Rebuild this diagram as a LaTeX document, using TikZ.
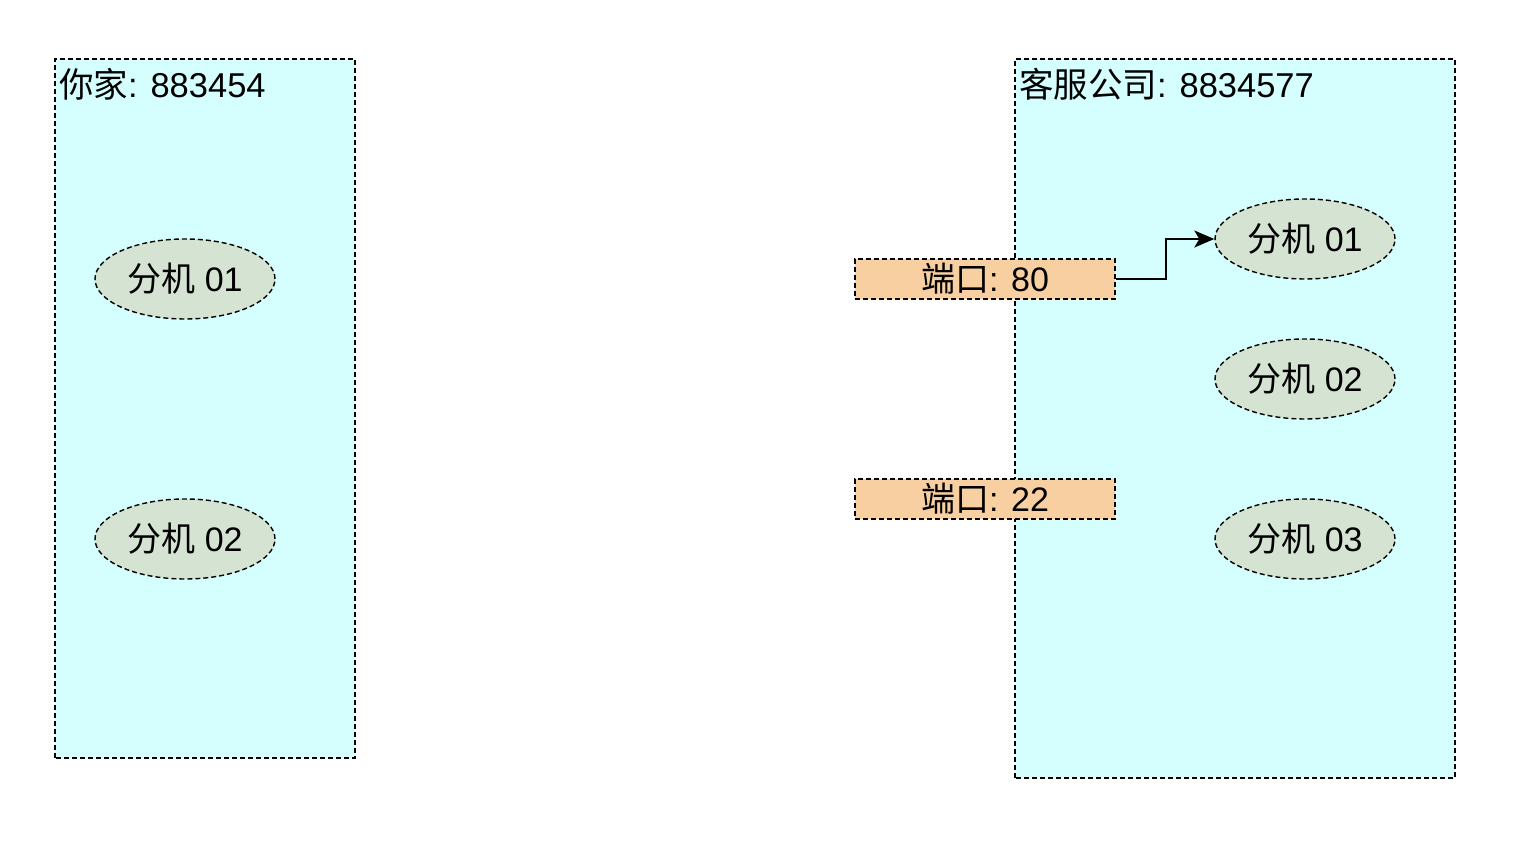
\documentclass[tikz,border=0pt]{standalone}
\usepackage{fontspec}
\setmainfont{Liberation Sans}
\newfontfamily\cjk{Noto Sans CJK SC}
\usetikzlibrary{shapes.geometric,arrows.meta}
\definecolor{boxcyan}{HTML}{D5FFFF}
\definecolor{extgreen}{HTML}{D5E3D2}
\definecolor{portorange}{HTML}{F8CFA0}
\tikzset{
  dline/.style={draw=black, line width=1.4pt, dash pattern=on 5pt off 3pt},
  area/.style={dline, fill=boxcyan},
  ext/.style={dline, fill=extgreen, ellipse, minimum width=180pt, minimum height=80pt, inner sep=0pt, font=\fontsize{34}{40}\selectfont},
  port/.style={dline, fill=portorange, rectangle, minimum width=260pt, minimum height=40pt, inner sep=0pt, font=\fontsize{34}{40}\selectfont},
  title/.style={anchor=north west, inner sep=0pt, font=\fontsize{34.5}{40}\selectfont},
  conn/.style={draw=black, line width=1.8pt, -{Stealth[length=20pt,width=17pt,inset=5pt]}}
}
\begin{document}
\begin{tikzpicture}[x=1pt,y=1pt]
\useasboundingbox (0,0) rectangle (1530,842);
% areas
\path[area] (55,84) rectangle (355,783);
\node[title] (hometitle) at (59,774) {{\cjk 你家}: 883454};
\path[area] (1015,64) rectangle (1455,783);
\node[title] (cstitle) at (1019,774) {{\cjk 客服公司}: 8834577};
% left extensions
\node[ext] (h1) at (185,563) {{\cjk 分机} 01};
\node[ext] (h2) at (185,303) {{\cjk 分机} 02};
% right extensions
\node[ext] (c1) at (1305,603) {{\cjk 分机} 01};
\node[ext] (c2) at (1305,463) {{\cjk 分机} 02};
\node[ext] (c3) at (1305,303) {{\cjk 分机} 03};
% ports
\node[port] (p80) at (985,563) {{\cjk 端口}: 80};
\node[port] (p22) at (985,343) {{\cjk 端口}: 22};
% connector
\draw[conn] (p80.east) -- ++(50,0) |- (c1.west);
\end{tikzpicture}
\end{document}
